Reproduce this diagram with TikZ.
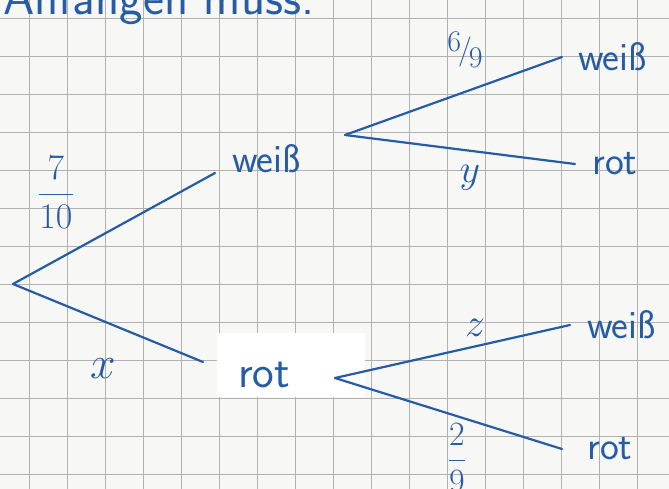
\RequirePackage{fix-cm}
\documentclass[tikz,border=0pt]{standalone}
\usepackage{tikz}
\usetikzlibrary{positioning}
\definecolor{ink}{RGB}{38,92,165}
\definecolor{gridgray}{RGB}{178,178,178}
\definecolor{paper}{RGB}{247,247,245}

\begin{document}
\begin{tikzpicture}[x=1pt, y=-1pt,
        branch/.style={draw=ink, line width=2.2pt, line cap=round},
        word/.style={text=ink, inner ysep=0pt, font=\sffamily\fontsize{40}{44}\selectfont},
        prob/.style={text=ink, inner sep=0pt, font=\fontsize{36}{40}\selectfont}
        ]
        \useasboundingbox (0,0) rectangle (669,489);
        \clip (0,0) rectangle (669,489);
        \fill[paper] (0,0) rectangle (669,489);
        % squared paper
        \foreach \gx in {-9,29,...,669} \draw[gridgray, line width=0.8pt] (\gx,0) -- (\gx,489);
        \foreach \gy in {18,56,...,489} \draw[gridgray, line width=0.8pt] (0,\gy) -- (669,\gy);
        \fill[white] (217,333) rectangle (365,397);

        \node[text=ink, anchor=base east, font=\sffamily\fontsize{50}{60}\selectfont] (head) at (318,15) {Anfangen muss.};

        % first stage
        \coordinate (root) at (13,284);
        \node[word, anchor=south west, inner xsep=17pt] (w1) at (215,173) {weiß};
        \node[word, anchor=north west, inner xsep=35pt, font=\sffamily\fontsize{46}{50}\selectfont] (r1) at (203,362) {rot};
        \draw[branch] (root) -- (w1.south west);
        \draw[branch] (root) -- (r1.north west);
        \node[prob] (p1) at (56,192) {$\displaystyle\frac{7}{10}$};
        \node[prob, font=\fontsize{46}{50}\selectfont] (p2) at (103,369) {$x$};

        % second stage
        \coordinate (bw) at (345,135);
        \coordinate (br) at (335,378);
        \node[word, anchor=west, inner xsep=16pt] (ww) at (562,57) {weiß};
        \node[word, anchor=west, inner xsep=17pt] (wr) at (575,164) {rot};
        \node[word, anchor=west, inner xsep=17pt] (rw) at (570,325) {weiß};
        \node[word, anchor=west, inner xsep=25pt] (rr) at (562,449) {rot};
        \draw[branch] (bw) -- (ww.west);
        \draw[branch] (bw) -- (wr.west);
        \draw[branch] (br) -- (rw.west);
        \draw[branch] (br) -- (rr.west);
        \node[prob, font=\fontsize{30}{34}\selectfont] (p3) at (465,50) {\raisebox{8pt}{6}\kern-3pt/\kern-3pt\raisebox{-8pt}{9}};
        \node[prob, font=\fontsize{40}{44}\selectfont] (p4) at (470,178) {$y$};
        \node[prob, font=\fontsize{40}{44}\selectfont] (p5) at (475,328) {$z$};
        \node[prob, font=\fontsize{34}{38}\selectfont] (p6) at (457,458) {$\displaystyle\frac{2}{9}$};
\end{tikzpicture}
\end{document}
